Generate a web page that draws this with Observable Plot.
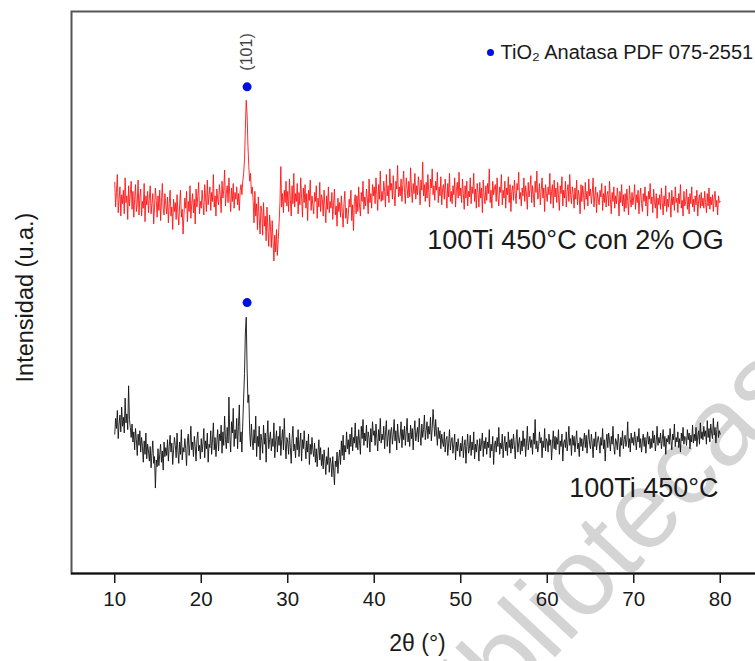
<!DOCTYPE html>
<html>
<head>
<meta charset="utf-8">
<script src="https://cdn.jsdelivr.net/npm/d3@7"></script>
<script src="https://cdn.jsdelivr.net/npm/@observablehq/plot@0.6"></script>
<style>
  html, body { margin: 0; padding: 0; background: #fff; }
  #chart svg { display: block; overflow: hidden; }
</style>
</head>
<body>
<div id="chart"></div>
<script>
// XRD patterns, 2θ from 10° to 80° sampled every 0.1° (one row per degree);
// intensities in arbitrary units, each pattern already carrying its vertical offset.
const twoThetaStart = 10;
const twoThetaStep = 0.1;

// 100Ti 450°C con 2% OG (red)
const intensityOG = [
  348, 326, 339, 355, 321, 333, 344, 318, 337, 329,
  341, 320, 352, 330, 336, 315, 345, 327, 338, 349,
  324, 340, 317, 333, 346, 322, 329, 350, 319, 335,
  342, 318, 331, 325, 347, 313, 336, 328, 340, 321,
  334, 345, 320, 329, 338, 311, 326, 343, 332, 317,
  336, 323, 341, 314, 330, 347, 325, 319, 338, 328,
  320, 335, 312, 329, 341, 318, 326, 306, 333, 322,
  330, 315, 337, 321, 310, 328, 341, 317, 324, 302,
  319, 334, 325, 340, 313, 331, 322, 345, 316, 329,
  338, 321, 333, 311, 342, 326, 335, 348, 320, 331,
  325, 341, 330, 319, 346, 334, 322, 350, 328, 337,
  344, 323, 339, 331, 355, 326, 336, 318, 342, 333,
  328, 346, 337, 321, 349, 334, 341, 359, 327, 338,
  345, 330, 352, 336, 322, 343, 331, 347, 325, 339,
  333, 344, 328, 338, 323, 341, 346, 337, 349, 356,
  368, 396, 421, 408, 380, 362, 349, 356, 338, 344,
  331, 312, 340, 318, 329, 306, 335, 316, 302, 327,
  322, 301, 330, 309, 318, 296, 326, 307, 291, 319,
  309, 290, 314, 296, 278, 301, 286, 306, 283, 297,
  312, 330, 362, 326, 338, 321, 341, 330, 349, 327,
  340, 322, 351, 333, 318, 345, 329, 356, 326, 338,
  331, 347, 320, 339, 328, 352, 335, 317, 343, 330,
  346, 325, 338, 314, 341, 332, 350, 323, 336, 328,
  320, 339, 331, 345, 316, 334, 326, 348, 322, 337,
  333, 318, 341, 327, 312, 336, 324, 344, 321, 331,
  325, 339, 315, 330, 342, 319, 327, 309, 334, 322,
  330, 317, 336, 322, 308, 329, 340, 316, 325, 311,
  319, 333, 326, 341, 314, 328, 305, 331, 337, 320,
  336, 322, 344, 327, 318, 339, 331, 349, 324, 335,
  327, 342, 334, 320, 351, 330, 338, 325, 346, 336,
  344, 329, 352, 337, 323, 346, 333, 358, 331, 340,
  332, 349, 340, 326, 355, 336, 345, 330, 360, 341,
  347, 333, 354, 338, 327, 349, 342, 363, 335, 344,
  336, 351, 331, 346, 358, 339, 329, 352, 343, 334,
  349, 335, 361, 342, 330, 347, 338, 356, 333, 345,
  337, 353, 344, 328, 350, 341, 366, 336, 346, 331,
  348, 334, 355, 339, 326, 351, 343, 360, 337, 345,
  332, 349, 341, 357, 330, 344, 336, 353, 328, 342,
  346, 333, 351, 338, 325, 347, 335, 356, 331, 340,
  329, 345, 337, 352, 326, 341, 348, 334, 357, 336,
  343, 330, 351, 338, 324, 345, 334, 349, 327, 340,
  335, 352, 329, 344, 338, 356, 331, 342, 325, 347,
  339, 326, 348, 334, 343, 321, 350, 336, 329, 345,
  332, 347, 338, 360, 330, 341, 325, 349, 337, 343,
  346, 331, 352, 336, 327, 344, 339, 355, 328, 341,
  334, 349, 325, 343, 337, 353, 330, 346, 322, 340,
  345, 332, 350, 338, 329, 347, 341, 357, 333, 339,
  327, 343, 336, 352, 331, 345, 338, 324, 348, 335,
  342, 354, 330, 345, 337, 326, 349, 339, 358, 333,
  336, 347, 328, 341, 352, 334, 343, 322, 346, 338,
  331, 344, 337, 356, 329, 340, 346, 325, 350, 335,
  343, 330, 348, 336, 323, 345, 338, 353, 327, 341,
  334, 349, 326, 340, 346, 331, 355, 337, 329, 344,
  338, 325, 343, 333, 350, 328, 341, 335, 320, 346,
  331, 345, 337, 324, 348, 333, 340, 327, 351, 336,
  342, 329, 338, 352, 326, 336, 344, 321, 339, 333,
  328, 341, 335, 347, 323, 338, 330, 345, 326, 337,
  340, 327, 349, 333, 320, 339, 331, 344, 325, 336,
  329, 343, 334, 318, 340, 330, 346, 327, 337, 322,
  338, 325, 342, 331, 319, 345, 333, 326, 339, 328,
  335, 346, 324, 337, 330, 341, 320, 334, 343, 329,
  322, 338, 331, 344, 327, 336, 318, 340, 333, 347,
  329, 335, 321, 342, 331, 325, 338, 316, 334, 328,
  337, 324, 343, 330, 319, 336, 327, 345, 322, 333,
  326, 339, 331, 317, 341, 328, 335, 323, 344, 330,
  334, 321, 338, 329, 346, 325, 332, 318, 340, 327,
  331, 342, 324, 335, 320, 338, 329, 344, 326, 333,
  322, 336, 328, 341, 318, 332, 337, 325, 339, 327,
  334, 325, 340, 330, 321, 338, 327, 343, 324, 335,
  328, 337, 322, 334, 340, 326, 332, 319, 336, 330,
  331
];

// 100Ti 450°C (black)
const intensityTi = [
  124, 138, 129, 145, 120, 133, 141, 126, 148, 131,
  139, 125, 156, 134, 142, 128, 167, 137, 130, 121,
  133, 117, 126, 110, 129, 119, 105, 124, 114, 127,
  108, 121, 113, 99, 118, 106, 125, 102, 115, 109,
  100, 113, 94, 107, 118, 98, 104, 76, 101, 95,
  111, 96, 106, 115, 99, 109, 92, 117, 104, 112,
  105, 119, 100, 113, 123, 108, 116, 97, 110, 121,
  114, 103, 125, 109, 98, 117, 106, 128, 101, 112,
  108, 120, 111, 96, 118, 124, 105, 115, 131, 110,
  117, 104, 122, 113, 100, 119, 126, 109, 114, 102,
  120, 108, 116, 129, 103, 118, 111, 125, 99, 115,
  112, 127, 106, 119, 134, 110, 121, 104, 117, 128,
  109, 124, 118, 132, 107, 126, 114, 140, 119, 111,
  130, 116, 157, 122, 108, 135, 125, 147, 113, 128,
  120, 138, 111, 131, 150, 117, 126, 108, 134, 156,
  178, 214, 228, 182, 152, 159, 126, 113, 133, 118,
  110, 128, 116, 140, 104, 122, 113, 131, 101, 124,
  118, 107, 132, 115, 125, 99, 121, 136, 111, 119,
  126, 109, 120, 113, 134, 103, 118, 127, 108, 122,
  114, 131, 105, 119, 128, 110, 138, 116, 102, 121,
  117, 106, 125, 112, 98, 120, 131, 109, 115, 103,
  121, 110, 128, 104, 116, 125, 100, 119, 111, 127,
  113, 102, 118, 108, 124, 97, 115, 106, 121, 110,
  104, 116, 99, 111, 95, 108, 119, 101, 112, 96,
  106, 93, 110, 101, 88, 104, 97, 112, 90, 103,
  98, 86, 104, 92, 79, 100, 95, 108, 89, 102,
  110, 97, 118, 105, 123, 101, 114, 108, 126, 111,
  119, 106, 124, 113, 130, 109, 121, 116, 134, 112,
  122, 110, 128, 117, 106, 131, 120, 137, 114, 125,
  118, 132, 112, 126, 121, 108, 129, 117, 135, 123,
  127, 114, 133, 120, 109, 128, 118, 138, 116, 124,
  119, 131, 111, 125, 136, 113, 122, 128, 107, 126,
  130, 115, 124, 137, 118, 127, 110, 133, 121, 116,
  123, 135, 112, 128, 119, 131, 114, 126, 138, 117,
  125, 113, 132, 120, 129, 110, 127, 136, 118, 124,
  130, 117, 138, 124, 114, 133, 121, 128, 141, 119,
  127, 135, 120, 131, 124, 139, 118, 129, 146, 133,
  122, 137, 125, 114, 130, 120, 127, 111, 124, 117,
  113, 126, 108, 119, 122, 105, 116, 128, 110, 118,
  121, 107, 115, 124, 101, 117, 109, 120, 112, 104,
  116, 109, 122, 103, 114, 119, 98, 113, 124, 107,
  111, 123, 105, 117, 110, 126, 102, 115, 108, 119,
  113, 100, 120, 109, 116, 125, 104, 118, 111, 121,
  106, 117, 112, 128, 103, 115, 109, 122, 97, 114,
  118, 108, 121, 113, 130, 106, 116, 111, 124, 103,
  115, 122, 109, 117, 105, 126, 112, 119, 107, 120,
  111, 124, 114, 102, 119, 128, 108, 116, 121, 106,
  118, 109, 127, 113, 120, 104, 116, 131, 110, 117,
  122, 112, 119, 106, 125, 115, 137, 111, 118, 108,
  113, 126, 116, 121, 103, 118, 112, 129, 109, 120,
  117, 108, 124, 114, 119, 101, 116, 127, 111, 122,
  110, 121, 115, 128, 106, 118, 113, 124, 100, 116,
  119, 112, 126, 109, 117, 131, 114, 120, 105, 123,
  114, 122, 108, 118, 127, 111, 116, 104, 121, 113,
  120, 109, 117, 125, 112, 123, 107, 119, 128, 115,
  111, 124, 116, 103, 120, 113, 126, 110, 118, 122,
  116, 107, 121, 114, 129, 111, 119, 100, 117, 124,
  112, 125, 118, 109, 122, 115, 131, 113, 106, 120,
  117, 110, 124, 116, 104, 121, 114, 127, 111, 119,
  123, 113, 118, 135, 112, 120, 108, 125, 116, 121,
  114, 126, 119, 110, 122, 117, 129, 112, 120, 108,
  118, 124, 113, 121, 107, 119, 126, 115, 122, 111,
  120, 112, 127, 116, 123, 109, 118, 131, 114, 121,
  116, 125, 111, 119, 128, 113, 122, 106, 120, 117,
  123, 115, 129, 118, 110, 124, 119, 133, 113, 121,
  117, 126, 112, 120, 108, 125, 118, 130, 115, 122,
  121, 114, 128, 119, 125, 111, 123, 117, 132, 116,
  124, 118, 130, 113, 122, 127, 115, 134, 120, 126,
  119, 131, 122, 127, 115, 136, 121, 129, 117, 133,
  125, 120, 138, 123, 130, 116, 128, 135, 121, 127,
  124
];

// Anatase (101) reflection markers
const anatasePeak = [
  { t: 25.3, v: 433 },
  { t: 25.3, v: 241 }
];

const xTicks = [10, 20, 30, 40, 50, 60, 70, 80];

const seriesLabels = [
  { t: 80.4, v: 296, text: "100Ti 450°C con 2% OG" },
  { t: 79.8, v: 76,  text: "100Ti 450°C" }
];

const legendLabel = "TiO₂ Anatasa PDF 075-2551";

const toRows = (values) =>
  values.map((v, i) => ({ t: twoThetaStart + i * twoThetaStep, v }));

const rowsOG = toRows(intensityOG);
const rowsTi = toRows(intensityTi);

const font = "'Liberation Sans', Arial, sans-serif";

const chart = Plot.plot({
  width: 755,
  height: 661,
  marginLeft: 71,
  marginRight: -8,
  marginTop: 11,
  marginBottom: 88,
  style: { fontFamily: font, background: "#fff", color: "#1a1a1a", overflow: "hidden" },
  x: { domain: [5, 85], axis: null },
  y: { domain: [0, 500], axis: null },
  marks: [
    Plot.frame({ stroke: "#555", strokeWidth: 2 }),
    Plot.line(rowsOG, { x: "t", y: "v", stroke: "#ff1414", strokeWidth: 0.9 }),
    Plot.line(rowsTi, { x: "t", y: "v", stroke: "#111", strokeWidth: 0.9 }),
    Plot.ruleY([0], { stroke: "#111", strokeWidth: 2 }),
    Plot.axisX({ ticks: xTicks, tickSize: 10, tickPadding: 8, strokeWidth: 1.5,
                 fontSize: 20.5, label: null, tickFormat: d => String(d) }),
    Plot.dot(anatasePeak, { x: "t", y: "v", r: 4.5, fill: "#0010e0", stroke: "none" }),
    Plot.text(["(101)"], { x: 25.3, y: 464, rotate: -90, fontSize: 16, fill: "#444" }),
    Plot.text(seriesLabels, { x: "t", y: "v", text: "text", textAnchor: "end",
                              fontSize: 27, fill: "#1a1a1a" }),
    // legend
    Plot.dot([0], { frameAnchor: "top-left", dx: 419, dy: 41, r: 3.5, fill: "#0010e0", stroke: "none" }),
    Plot.text([legendLabel], { frameAnchor: "top-left", dx: 429, dy: 41,
                              textAnchor: "start", lineAnchor: "middle", fontSize: 20,
                              fill: "#1a1a1a" }),
    // axis titles
    Plot.text(["2θ (°)"], { frameAnchor: "bottom", dy: 70, lineAnchor: "middle",
                              fontSize: 23, fill: "#1a1a1a" }),
    Plot.text(["Intensidad (u.a.)"], { frameAnchor: "left", dx: -46, dy: 5, rotate: -90,
                              textAnchor: "middle", lineAnchor: "middle",
                              fontSize: 23.5, fill: "#1a1a1a" })
  ]
});

// faint repository watermark laid under the plotted marks
d3.select(chart).insert("text", "g")
  .attr("transform", "translate(450,770) rotate(-47)")
  .attr("text-anchor", "start")
  .style("font-family", font)
  .style("font-size", "110px")
  .attr("fill", "#d4d4d4")
  .text("bibliotecas");

document.getElementById("chart").appendChild(chart);
</script>
</body>
</html>
